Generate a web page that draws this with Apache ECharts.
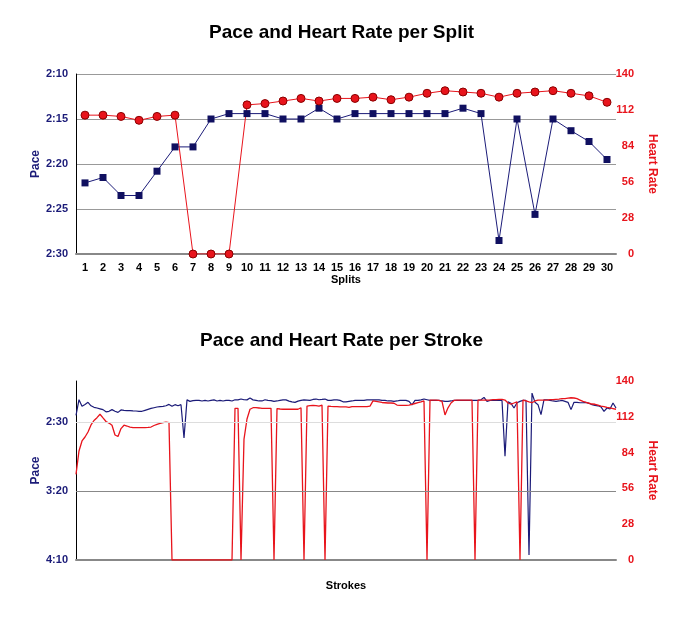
<!DOCTYPE html>
<html>
<head>
<meta charset="utf-8">
<title>Pace and Heart Rate</title>
<script src="https://cdn.jsdelivr.net/npm/echarts@6/dist/echarts.min.js"></script>
<style>
  html, body { margin: 0; padding: 0; background: #fff; }
  #chart { width: 683px; height: 617px; }
</style>
</head>
<body>
<div id="chart"></div>
<script>
// per split: pace in seconds per 500m, heart rate in bpm
const splits = ['1', '2', '3', '4', '5', '6', '7', '8', '9', '10',
  '11', '12', '13', '14', '15', '16', '17', '18', '19', '20',
  '21', '22', '23', '24', '25', '26', '27', '28', '29', '30']
const splitPace = [142.1, 141.5, 143.5, 143.5, 140.8, 138.1, 138.1, 135.0, 134.4, 134.4,
  134.4, 135.0, 135.0, 133.8, 135.0, 134.4, 134.4, 134.4, 134.4, 134.4,
  134.4, 133.8, 134.4, 148.5, 135.0, 145.6, 135.0, 136.3, 137.5, 139.5]
const splitHeartRate = [108, 108, 107, 104, 107, 108, 0, 0, 0, 116,
  117, 119, 121, 119, 121, 121, 122, 120, 122, 125,
  127, 126, 125, 122, 125, 126, 127, 125, 123, 118]

// per stroke (sampled along the session)
const strokePace = [
  145, 133.6, 138.4, 137.0, 135.5, 138.0, 139.1, 139.6, 140.2, 140.8,
  142.4, 142.0, 140.8, 142.0, 142.8, 141.0, 141.3, 141.5, 141.5, 141.7,
  141.8, 142.0, 142.0, 141.3, 140.6, 139.9, 139.4, 138.9, 138.6, 138.4,
  138.0, 137.0, 138.4, 137.2, 138.0, 137.2, 161.4, 133.7, 134.8, 134.3,
  134.1, 134.1, 134.5, 134.1, 134.5, 134.1, 133.7, 134.5, 134.1, 134.5,
  134.1, 134.1, 134.5, 133.6, 133.7, 133.1, 133.6, 133.7, 132.4, 133.7,
  134.1, 134.5, 134.5, 133.6, 134.1, 134.3, 134.8, 134.5, 134.1, 133.7,
  133.7, 134.6, 135.1, 135.5, 134.6, 134.1, 133.7, 133.9, 134.1, 133.4,
  133.1, 133.6, 133.4, 133.1, 134.1, 134.1, 133.7, 133.7, 134.1, 135.1,
  135.1, 134.8, 134.5, 134.1, 134.1, 134.1, 134.1, 133.7, 133.7, 133.7,
  133.6, 133.7, 134.1, 134.1, 134.5, 134.5, 134.8, 134.5, 134.1, 134.1,
  134.1, 134.8, 137.3, 134.1, 134.1, 133.7, 133.1, 133.6, 134.1, 134.1,
  134.1, 134.1, 134.5, 134.8, 134.8, 134.5, 134.1, 134.1, 134.1, 134.1,
  134.1, 134.1, 134.1, 134.1, 134.1, 133.6, 131.9, 134.8, 134.1, 134.1,
  134.1, 134.1, 134.1, 174.6, 135.1, 136.2, 139.6, 135.8, 134.8, 134.1,
  134.1, 246.4, 128.8, 135.5, 137.2, 144.4, 133.6, 133.6, 134.1, 134.5,
  134.8, 134.5, 134.1, 134.8, 135.5, 140.8, 135.5, 135.5, 135.8, 135.8,
  135.5, 136.2, 137.2, 137.7, 138.0, 138.8, 142.0, 139.6, 140.3, 136.0,
  139.6
]
const strokeHeartRate = [
  67, 85.3, 93.1, 96.2, 100.1, 105.6, 109.1, 111.3, 114.0, 111.1,
  108.3, 107.1, 105.4, 97.8, 96.6, 102.8, 105.4, 104.8, 104.0, 103.5,
  103.5, 103.5, 103.5, 103.5, 103.7, 104.0, 105.2, 106.1, 106.9, 107.5,
  107.9, 107.4, 0, 0, 0, 0, 0, 0, 0, 0,
  0, 0, 0, 0, 0, 0, 0, 0, 0, 0,
  0, 0, 0, 118.6, 118.6, 0, 94.6, 110.3, 117.9, 119.1,
  119.1, 118.9, 118.6, 118.6, 118.6, 118.6, 0, 118.4, 118.1, 117.9,
  117.9, 117.9, 117.9, 117.9, 117.9, 119.1, 0, 120.4, 120.8, 121.0,
  120.8, 120.4, 121.2, 0, 120.4, 120.1, 120.0, 119.9, 119.7, 119.7,
  119.7, 119.3, 119.9, 119.9, 119.9, 119.9, 119.9, 120.0, 120.4, 124.4,
  124.0, 123.6, 123.2, 123.0, 122.8, 122.8, 122.6, 121.2, 121.0, 121.0,
  121.0, 121.2, 121.8, 122.4, 123.0, 123.6, 124.4, 0, 125.1, 125.1,
  125.1, 124.8, 124.0, 113.5, 119.0, 122.8, 124.8, 125.1, 125.1, 125.1,
  125.1, 125.1, 125.1, 0, 125.1, 125.1, 125.1, 125.1, 125.1, 125.4,
  125.5, 125.7, 125.7, 125.1, 122.8, 122.0, 122.8, 123.6, 0, 125.1,
  124.4, 123.6, 123.0, 124.4, 125.1, 125.1, 125.1, 125.1, 125.4, 125.5,
  125.7, 125.9, 126.2, 126.2, 126.6, 126.9, 126.7, 126.2, 125.1, 124.0,
  123.2, 122.6, 122.0, 121.8, 121.2, 120.4, 120.0, 119.3, 118.9, 118.4,
  117.9
]
const strokes = strokePace.map((_, i) => String(i + 1))

// labelled pace ticks on the stroke chart (2:30, 3:20, 4:10)
const strokePaceTicks = [150, 200, 250]

const NAVY = '#1b1b78'
const RED = '#e8141c'
const FONT = 'Liberation Sans'

// seconds -> m:ss
const fmtPace = (v) => {
  const m = Math.floor(v / 60)
  const s = Math.round(v - m * 60)
  return m + ':' + String(s).padStart(2, '0')
}

const chart = echarts.init(document.getElementById('chart'), null, { renderer: 'canvas' })

const leftLabel = { color: NAVY, fontWeight: 'bold', fontSize: 11, fontFamily: FONT, margin: 8 }
const rightLabel = { color: RED, fontWeight: 'bold', fontSize: 11, fontFamily: FONT, align: 'right', margin: 18 }
const titleStyle = { fontSize: 19, fontWeight: 'bold', color: '#000', fontFamily: FONT }

const option = {
  animation: false,
  title: [
    { text: 'Pace and Heart Rate per Split', left: 'center', top: 18, textStyle: titleStyle },
    { text: 'Pace and Heart Rate per Stroke', left: 'center', top: 326, textStyle: titleStyle }
  ],
  grid: [
    { left: 76, right: 67, top: 74, height: 180 },
    { left: 76, right: 67, top: 381, height: 179 }
  ],
  xAxis: [
    {
      type: 'category',
      gridIndex: 0,
      data: splits,
      boundaryGap: true,
      name: 'Splits',
      nameLocation: 'middle',
      nameGap: 20,
      nameTextStyle: { color: '#000', fontWeight: 'bold', fontSize: 11, fontFamily: FONT },
      axisLine: { lineStyle: { color: '#888', width: 2 } },
      axisTick: { show: false },
      axisLabel: { interval: 0, color: '#000', fontWeight: 'bold', fontSize: 11, fontFamily: FONT, margin: 8 },
      splitLine: { show: false }
    },
    {
      type: 'category',
      gridIndex: 1,
      data: strokes,
      boundaryGap: false,
      name: 'Strokes',
      nameLocation: 'middle',
      nameGap: 20,
      nameTextStyle: { color: '#000', fontWeight: 'bold', fontSize: 11, fontFamily: FONT },
      axisLine: { lineStyle: { color: '#888', width: 2 } },
      axisTick: { show: false },
      axisLabel: { show: false },
      splitLine: { show: false }
    }
  ],
  yAxis: [
    {
      type: 'value',
      gridIndex: 0,
      position: 'left',
      inverse: true,
      min: 130,
      max: 150,
      interval: 5,
      name: 'Pace',
      nameLocation: 'middle',
      nameRotate: 90,
      nameGap: 34,
      nameMoveOverlap: false,
      nameTextStyle: { color: NAVY, fontWeight: 'bold', fontSize: 12, fontFamily: FONT },
      axisLine: { show: true, lineStyle: { color: '#000', width: 1 } },
      axisTick: { show: false },
      axisLabel: { ...leftLabel, formatter: fmtPace },
      splitLine: { show: true, lineStyle: { color: '#999', width: 1 } }
    },
    {
      type: 'value',
      gridIndex: 0,
      position: 'right',
      min: 0,
      max: 140,
      interval: 28,
      name: 'Heart Rate',
      nameLocation: 'middle',
      nameRotate: -90,
      nameGap: 30,
      nameTextStyle: { color: RED, fontWeight: 'bold', fontSize: 12, fontFamily: FONT },
      axisLine: { show: false },
      axisTick: { show: false },
      axisLabel: rightLabel,
      splitLine: { show: false }
    },
    {
      type: 'value',
      gridIndex: 1,
      position: 'left',
      inverse: true,
      min: 120,
      max: 250,
      interval: 10,
      name: 'Pace',
      nameLocation: 'middle',
      nameRotate: 90,
      nameGap: 34,
      nameMoveOverlap: false,
      nameTextStyle: { color: NAVY, fontWeight: 'bold', fontSize: 12, fontFamily: FONT },
      axisLine: { show: true, lineStyle: { color: '#000', width: 1 } },
      axisTick: { show: false },
      axisLabel: { ...leftLabel, formatter: (v) => strokePaceTicks.includes(v) ? fmtPace(v) : '' },
      splitLine: { show: false }
    },
    {
      type: 'value',
      gridIndex: 1,
      position: 'right',
      min: 0,
      max: 140,
      interval: 28,
      name: 'Heart Rate',
      nameLocation: 'middle',
      nameRotate: -90,
      nameGap: 30,
      nameTextStyle: { color: RED, fontWeight: 'bold', fontSize: 12, fontFamily: FONT },
      axisLine: { show: false },
      axisTick: { show: false },
      axisLabel: rightLabel,
      splitLine: { show: false }
    }
  ],
  series: [
    {
      name: 'Pace',
      type: 'line',
      xAxisIndex: 0,
      yAxisIndex: 0,
      data: splitPace,
      symbol: 'rect',
      symbolSize: 7,
      itemStyle: { color: '#101060' },
      lineStyle: { color: NAVY, width: 1 }
    },
    {
      name: 'Heart Rate',
      type: 'line',
      xAxisIndex: 0,
      yAxisIndex: 1,
      data: splitHeartRate,
      symbol: 'circle',
      symbolSize: 8,
      itemStyle: { color: RED, borderColor: '#8a0000', borderWidth: 1 },
      lineStyle: { color: RED, width: 1 }
    },
    {
      name: 'Stroke Pace',
      type: 'line',
      xAxisIndex: 1,
      yAxisIndex: 2,
      data: strokePace,
      symbol: 'none',
      lineStyle: { color: NAVY, width: 1.2 },
      // grid lines at the labelled pace ticks only
      markLine: {
        silent: true,
        symbol: 'none',
        label: { show: false },
        data: [
          { yAxis: strokePaceTicks[0], lineStyle: { color: '#ddd', width: 1, type: 'solid' } },
          { yAxis: strokePaceTicks[1], lineStyle: { color: '#888', width: 1, type: 'solid' } }
        ]
      }
    },
    {
      name: 'Stroke Heart Rate',
      type: 'line',
      xAxisIndex: 1,
      yAxisIndex: 3,
      data: strokeHeartRate,
      symbol: 'none',
      lineStyle: { color: RED, width: 1.3 }
    }
  ]
}

chart.setOption(option)
</script>
</body>
</html>
